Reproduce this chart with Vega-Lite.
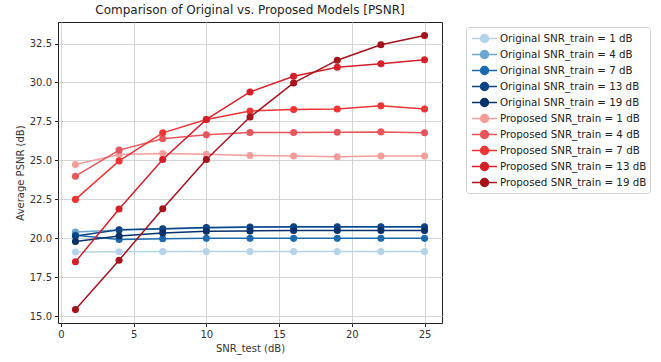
{
  "$schema": "https://vega.github.io/schema/vega-lite/v6.json",
  "width": 384,
  "height": 301,
  "autosize": {"type": "none"},
  "padding": {"left": 58, "top": 22, "right": 219, "bottom": 39},
  "title": {"text": "Comparison of Original vs. Proposed Models [PSNR]", "font": "DejaVu Sans", "fontSize": 12, "fontWeight": "normal", "color": "#222", "offset": 5},
  "config": {
    "view": {"stroke": "#222", "strokeWidth": 1},
    "axis": {"labelFont": "DejaVu Sans", "titleFont": "DejaVu Sans", "labelFontSize": 10, "titleFontSize": 10, "titleFontWeight": "normal", "labelColor": "#333", "titleColor": "#333", "gridColor": "#d4d4d4", "gridWidth": 1, "tickColor": "#222", "tickSize": 3.5, "domain": false, "labelPadding": 3}
  },
  "data": {"values": [
    {"series": "Original SNR_train = 1 dB", "snr": 1, "psnr": 19.12},
    {"series": "Original SNR_train = 1 dB", "snr": 4, "psnr": 19.14},
    {"series": "Original SNR_train = 1 dB", "snr": 7, "psnr": 19.15},
    {"series": "Original SNR_train = 1 dB", "snr": 10, "psnr": 19.15},
    {"series": "Original SNR_train = 1 dB", "snr": 13, "psnr": 19.15},
    {"series": "Original SNR_train = 1 dB", "snr": 16, "psnr": 19.15},
    {"series": "Original SNR_train = 1 dB", "snr": 19, "psnr": 19.15},
    {"series": "Original SNR_train = 1 dB", "snr": 22, "psnr": 19.15},
    {"series": "Original SNR_train = 1 dB", "snr": 25, "psnr": 19.15},
    {"series": "Original SNR_train = 4 dB", "snr": 1, "psnr": 20.4},
    {"series": "Original SNR_train = 4 dB", "snr": 4, "psnr": 20.53},
    {"series": "Original SNR_train = 4 dB", "snr": 7, "psnr": 20.6},
    {"series": "Original SNR_train = 4 dB", "snr": 10, "psnr": 20.67},
    {"series": "Original SNR_train = 4 dB", "snr": 13, "psnr": 20.71},
    {"series": "Original SNR_train = 4 dB", "snr": 16, "psnr": 20.73},
    {"series": "Original SNR_train = 4 dB", "snr": 19, "psnr": 20.73},
    {"series": "Original SNR_train = 4 dB", "snr": 22, "psnr": 20.73},
    {"series": "Original SNR_train = 4 dB", "snr": 25, "psnr": 20.73},
    {"series": "Original SNR_train = 7 dB", "snr": 1, "psnr": 20.2},
    {"series": "Original SNR_train = 7 dB", "snr": 4, "psnr": 19.93},
    {"series": "Original SNR_train = 7 dB", "snr": 7, "psnr": 19.97},
    {"series": "Original SNR_train = 7 dB", "snr": 10, "psnr": 20.0},
    {"series": "Original SNR_train = 7 dB", "snr": 13, "psnr": 20.0},
    {"series": "Original SNR_train = 7 dB", "snr": 16, "psnr": 20.0},
    {"series": "Original SNR_train = 7 dB", "snr": 19, "psnr": 20.0},
    {"series": "Original SNR_train = 7 dB", "snr": 22, "psnr": 20.0},
    {"series": "Original SNR_train = 7 dB", "snr": 25, "psnr": 20.0},
    {"series": "Original SNR_train = 13 dB", "snr": 1, "psnr": 20.15},
    {"series": "Original SNR_train = 13 dB", "snr": 4, "psnr": 20.55},
    {"series": "Original SNR_train = 13 dB", "snr": 7, "psnr": 20.62},
    {"series": "Original SNR_train = 13 dB", "snr": 10, "psnr": 20.7},
    {"series": "Original SNR_train = 13 dB", "snr": 13, "psnr": 20.73},
    {"series": "Original SNR_train = 13 dB", "snr": 16, "psnr": 20.75},
    {"series": "Original SNR_train = 13 dB", "snr": 19, "psnr": 20.75},
    {"series": "Original SNR_train = 13 dB", "snr": 22, "psnr": 20.75},
    {"series": "Original SNR_train = 13 dB", "snr": 25, "psnr": 20.75},
    {"series": "Original SNR_train = 19 dB", "snr": 1, "psnr": 19.8},
    {"series": "Original SNR_train = 19 dB", "snr": 4, "psnr": 20.15},
    {"series": "Original SNR_train = 19 dB", "snr": 7, "psnr": 20.35},
    {"series": "Original SNR_train = 19 dB", "snr": 10, "psnr": 20.45},
    {"series": "Original SNR_train = 19 dB", "snr": 13, "psnr": 20.48},
    {"series": "Original SNR_train = 19 dB", "snr": 16, "psnr": 20.5},
    {"series": "Original SNR_train = 19 dB", "snr": 19, "psnr": 20.5},
    {"series": "Original SNR_train = 19 dB", "snr": 22, "psnr": 20.5},
    {"series": "Original SNR_train = 19 dB", "snr": 25, "psnr": 20.5},
    {"series": "Proposed SNR_train = 1 dB", "snr": 1, "psnr": 24.74},
    {"series": "Proposed SNR_train = 1 dB", "snr": 4, "psnr": 25.38},
    {"series": "Proposed SNR_train = 1 dB", "snr": 7, "psnr": 25.44},
    {"series": "Proposed SNR_train = 1 dB", "snr": 10, "psnr": 25.4},
    {"series": "Proposed SNR_train = 1 dB", "snr": 13, "psnr": 25.32},
    {"series": "Proposed SNR_train = 1 dB", "snr": 16, "psnr": 25.28},
    {"series": "Proposed SNR_train = 1 dB", "snr": 19, "psnr": 25.24},
    {"series": "Proposed SNR_train = 1 dB", "snr": 22, "psnr": 25.28},
    {"series": "Proposed SNR_train = 1 dB", "snr": 25, "psnr": 25.28},
    {"series": "Proposed SNR_train = 4 dB", "snr": 1, "psnr": 23.99},
    {"series": "Proposed SNR_train = 4 dB", "snr": 4, "psnr": 25.66},
    {"series": "Proposed SNR_train = 4 dB", "snr": 7, "psnr": 26.39},
    {"series": "Proposed SNR_train = 4 dB", "snr": 10, "psnr": 26.64},
    {"series": "Proposed SNR_train = 4 dB", "snr": 13, "psnr": 26.79},
    {"series": "Proposed SNR_train = 4 dB", "snr": 16, "psnr": 26.79},
    {"series": "Proposed SNR_train = 4 dB", "snr": 19, "psnr": 26.81},
    {"series": "Proposed SNR_train = 4 dB", "snr": 22, "psnr": 26.83},
    {"series": "Proposed SNR_train = 4 dB", "snr": 25, "psnr": 26.77},
    {"series": "Proposed SNR_train = 7 dB", "snr": 1, "psnr": 22.5},
    {"series": "Proposed SNR_train = 7 dB", "snr": 4, "psnr": 24.97},
    {"series": "Proposed SNR_train = 7 dB", "snr": 7, "psnr": 26.77},
    {"series": "Proposed SNR_train = 7 dB", "snr": 10, "psnr": 27.62},
    {"series": "Proposed SNR_train = 7 dB", "snr": 13, "psnr": 28.17},
    {"series": "Proposed SNR_train = 7 dB", "snr": 16, "psnr": 28.27},
    {"series": "Proposed SNR_train = 7 dB", "snr": 19, "psnr": 28.3},
    {"series": "Proposed SNR_train = 7 dB", "snr": 22, "psnr": 28.5},
    {"series": "Proposed SNR_train = 7 dB", "snr": 25, "psnr": 28.3},
    {"series": "Proposed SNR_train = 13 dB", "snr": 1, "psnr": 18.5},
    {"series": "Proposed SNR_train = 13 dB", "snr": 4, "psnr": 21.88},
    {"series": "Proposed SNR_train = 13 dB", "snr": 7, "psnr": 25.06},
    {"series": "Proposed SNR_train = 13 dB", "snr": 10, "psnr": 27.63},
    {"series": "Proposed SNR_train = 13 dB", "snr": 13, "psnr": 29.39},
    {"series": "Proposed SNR_train = 13 dB", "snr": 16, "psnr": 30.4},
    {"series": "Proposed SNR_train = 13 dB", "snr": 19, "psnr": 30.98},
    {"series": "Proposed SNR_train = 13 dB", "snr": 22, "psnr": 31.2},
    {"series": "Proposed SNR_train = 13 dB", "snr": 25, "psnr": 31.46},
    {"series": "Proposed SNR_train = 19 dB", "snr": 1, "psnr": 15.43},
    {"series": "Proposed SNR_train = 19 dB", "snr": 4, "psnr": 18.6},
    {"series": "Proposed SNR_train = 19 dB", "snr": 7, "psnr": 21.9},
    {"series": "Proposed SNR_train = 19 dB", "snr": 10, "psnr": 25.06},
    {"series": "Proposed SNR_train = 19 dB", "snr": 13, "psnr": 27.78},
    {"series": "Proposed SNR_train = 19 dB", "snr": 16, "psnr": 29.97},
    {"series": "Proposed SNR_train = 19 dB", "snr": 19, "psnr": 31.43},
    {"series": "Proposed SNR_train = 19 dB", "snr": 22, "psnr": 32.42},
    {"series": "Proposed SNR_train = 19 dB", "snr": 25, "psnr": 33.01}
  ]},
  "encoding": {
    "x": {"field": "snr", "type": "quantitative", "scale": {"domain": [-0.2, 26.2], "nice": false, "zero": false}, "axis": {"title": "SNR_test (dB)", "values": [0, 5, 10, 15, 20, 25], "titlePadding": 4}},
    "y": {"field": "psnr", "type": "quantitative", "scale": {"domain": [14.57, 33.88], "nice": false, "zero": false}, "axis": {"title": "Average PSNR (dB)", "values": [15, 17.5, 20, 22.5, 25, 27.5, 30, 32.5], "format": ".1f", "titlePadding": 4}},
    "color": {"field": "series", "type": "nominal",
      "scale": {"domain": ["Original SNR_train = 1 dB", "Original SNR_train = 4 dB", "Original SNR_train = 7 dB", "Original SNR_train = 13 dB", "Original SNR_train = 19 dB", "Proposed SNR_train = 1 dB", "Proposed SNR_train = 4 dB", "Proposed SNR_train = 7 dB", "Proposed SNR_train = 13 dB", "Proposed SNR_train = 19 dB"],
        "range": ["#b5d4e9", "#6aa6cf", "#1c6aae", "#0a4485", "#08306b", "#f59d9b", "#e8565b", "#f03434", "#d61f28", "#a6121b"]},
      "legend": {"title": null, "orient": "none", "legendX": 408, "legendY": 5, "symbolType": "M-1.67,0H1.67M-0.53,0A0.53,0.53 0 1,0 0.53,0A0.53,0.53 0 1,0 -0.53,0Z", "symbolSize": 225, "symbolStrokeWidth": 1.5, "symbolOffset": 7, "labelFontSize": 10.3, "labelFont": "DejaVu Sans", "labelColor": "#222", "padding": 3, "strokeColor": "#d0d0d0", "fillColor": "white", "cornerRadius": 3, "rowPadding": -1, "labelOffset": 7, "labelLimit": 300,
        "encode": {"symbols": {"update": {"fill": {"scale": "color", "field": "value"}, "stroke": {"scale": "color", "field": "value"}, "opacity": {"value": 1}}}}}
    },
    "detail": {"field": "series"}
  },
  "layer": [
    {"mark": {"type": "line", "strokeWidth": 1.5}},
    {"mark": {"type": "point", "filled": true, "size": 50, "opacity": 1}}
  ]
}
